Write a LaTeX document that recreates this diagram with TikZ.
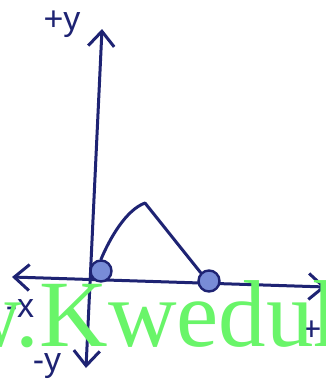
\documentclass[tikz,border=0pt]{standalone}
\usepackage{fontspec}
\setmainfont{Liberation Serif}
\setsansfont{Liberation Sans}
\usetikzlibrary{arrows.meta}
\definecolor{ink}{RGB}{30,35,115}
\definecolor{dotfill}{RGB}{120,140,215}
\definecolor{wm}{RGB}{105,245,105}
\begin{document}
\begin{tikzpicture}[x=1pt,y=-1pt,
  axis/.style={draw=ink,line width=3pt,line cap=round,
    {Straight Barb[length=15pt,width=26pt]}-{Straight Barb[length=15pt,width=26pt]}},
  curve/.style={draw=ink,line width=3pt,line cap=round,line join=round},
  pt/.style={circle,draw=ink,fill=dotfill,line width=2.4pt,minimum size=21pt,inner sep=0pt},
  lbl/.style={text=ink,font=\sffamily\fontsize{34}{34}\selectfont,inner sep=0pt},
  wmtext/.style={text=wm,font=\fontsize{95}{95}\selectfont,inner sep=0pt,anchor=base west}]
\useasboundingbox (0,0) rectangle (326,391);
\clip (0,0) rectangle (326,391);
\fill[white] (0,0) rectangle (326,391);
\coordinate (yt) at (102,29);
\coordinate (yb) at (86,368);
\coordinate (xl) at (12,277);
\coordinate (xr) at (326,287);
\draw[axis] (yb) -- (yt);
\draw[axis] (xl) -- (xr);
\coordinate (peak) at (145,203);
\node[pt] (O) at (101,271) {};
\node[pt] (P) at (209,281) {};
\draw[curve] (O.north) .. controls (110,238) and (126,210) .. (peak) -- (P.north west);
\node[lbl] (ly) at (62,24) {+y};
\node[lbl] (lmx) at (20,309) {-x};
\node[lbl] (lmy) at (47,366) {-y};
\node[lbl] (lx) at (320,331) {+x};
\node[wmtext] (wmk) at (-47,346) {w.Kweduh};
\end{tikzpicture}
\end{document}
